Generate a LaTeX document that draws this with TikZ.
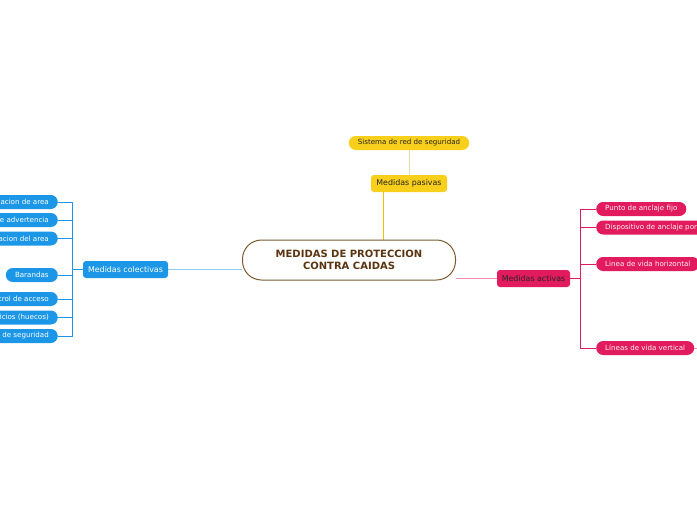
\documentclass[tikz,border=0pt]{standalone}
\usepackage{fontspec}
\setmainfont{DejaVu Sans}
\usetikzlibrary{backgrounds}
\definecolor{cblue}{HTML}{1C97E8}
\definecolor{lblue}{HTML}{8FCBF2}
\definecolor{cyel}{HTML}{F8CF1B}
\definecolor{dyel}{HTML}{F2C200}
\definecolor{lyel}{HTML}{E8D9A8}
\definecolor{cred}{HTML}{E11B5E}
\definecolor{lred}{HTML}{F08DB2}
\definecolor{cbrown}{HTML}{7B5A32}
\definecolor{tbrown}{HTML}{5A3410}
\tikzset{
  mainbox/.style={draw=cbrown, line width=1pt, fill=white, rounded corners=19pt, minimum width=213pt, minimum height=40pt, align=center, text=tbrown, font=\fontsize{10}{12}\selectfont\bfseries, inner sep=0pt},
  topic/.style={rounded corners=3pt, minimum height=17pt, inner sep=4pt, font=\fontsize{7.9}{9}\selectfont},
  leaf/.style={rounded corners=7pt, minimum height=14pt, inner xsep=9pt, inner ysep=0pt, font=\fontsize{7.1}{8}\selectfont},
  bluetopic/.style={topic, fill=cblue, text=white},
  yeltopic/.style={topic, fill=cyel, text=black!85},
  redtopic/.style={topic, fill=cred, text=black!85},
  blueleaf/.style={leaf, fill=cblue, text=white},
  yelleaf/.style={leaf, fill=cyel, text=black!85},
  redleaf/.style={leaf, fill=cred, text=red!5},
  bline/.style={draw=cblue, line width=0.8pt},
  rline/.style={draw=cred, line width=0.8pt},
}
\begin{document}
\begin{tikzpicture}[x=1pt,y=-1pt]
\useasboundingbox (0,0) rectangle (697,520);
\clip (0,0) rectangle (697,520);
\node[mainbox] (cen) at (349,260) {MEDIDAS DE PROTECCION\\CONTRA CAIDAS};
% passive
\node[yeltopic, minimum width=76pt] (pas) at (409,183.5) {Medidas pasivas};
\node[yelleaf, minimum width=120pt] (sis) at (409,143) {Sistema de red de seguridad};
% collective
\node[bluetopic, minimum width=85pt] (col) at (125.5,269.5) {Medidas colectivas};
\node[blueleaf, anchor=east] (b1) at (58,202) {Demarcacion de area};
\node[blueleaf, anchor=east] (b2) at (58,220) {Señales de advertencia};
\node[blueleaf, anchor=east] (b3) at (58,238.5) {Señalizacion del area};
\node[blueleaf, anchor=east, minimum width=52pt] (b4) at (58,275) {Barandas};
\node[blueleaf, anchor=east] (b5) at (58,299) {Control de acceso};
\node[blueleaf, anchor=east] (b6) at (58,317.5) {Cubiertas de orificios (huecos)};
\node[blueleaf, anchor=east] (b7) at (58,336) {Vigilante de seguridad};
% active
\node[redtopic, minimum width=73pt] (act) at (533.5,278.5) {Medidas activas};
\node[redleaf, anchor=west] (r1) at (596,209) {Punto de anclaje fijo};
\node[redleaf, anchor=west] (r2) at (596,227.5) {Dispositivo de anclaje portatil};
\node[redleaf, anchor=west] (r3) at (596,264) {Linea de vida horizontal};
\node[redleaf, anchor=west] (r4) at (596,348) {Líneas de vida vertical};
\coordinate (r4out) at (710,348);
\begin{pgfonlayer}{background}
  \fill[white] (0,0) rectangle (697,520);
  \draw[draw=dyel, line width=1.3pt] (pas.south west) ++(13,0) coordinate (p1) -- (p1 |- cen.north);
  \draw[draw=lyel, line width=0.8pt] (sis.south) -- (sis.south |- pas.north);
  \draw[draw=lblue, line width=0.8pt] (col.east) -- (col.east -| cen.west);
  \foreach \n in {b1,b2,b3,b4,b5,b6,b7}
    \draw[bline] (col.west) -- ++(-10,0) |- (\n.east);
  \draw[draw=lred, line width=0.8pt] (act.west) -- (act.west -| cen.east);
  \foreach \n in {r1,r2,r3,r4}
    \draw[rline] (act.east) -- ++(10,0) |- (\n.west);
  \draw[draw=lred, line width=0.8pt] (r4.east) -- (r4out);
\end{pgfonlayer}
\end{tikzpicture}
\end{document}
